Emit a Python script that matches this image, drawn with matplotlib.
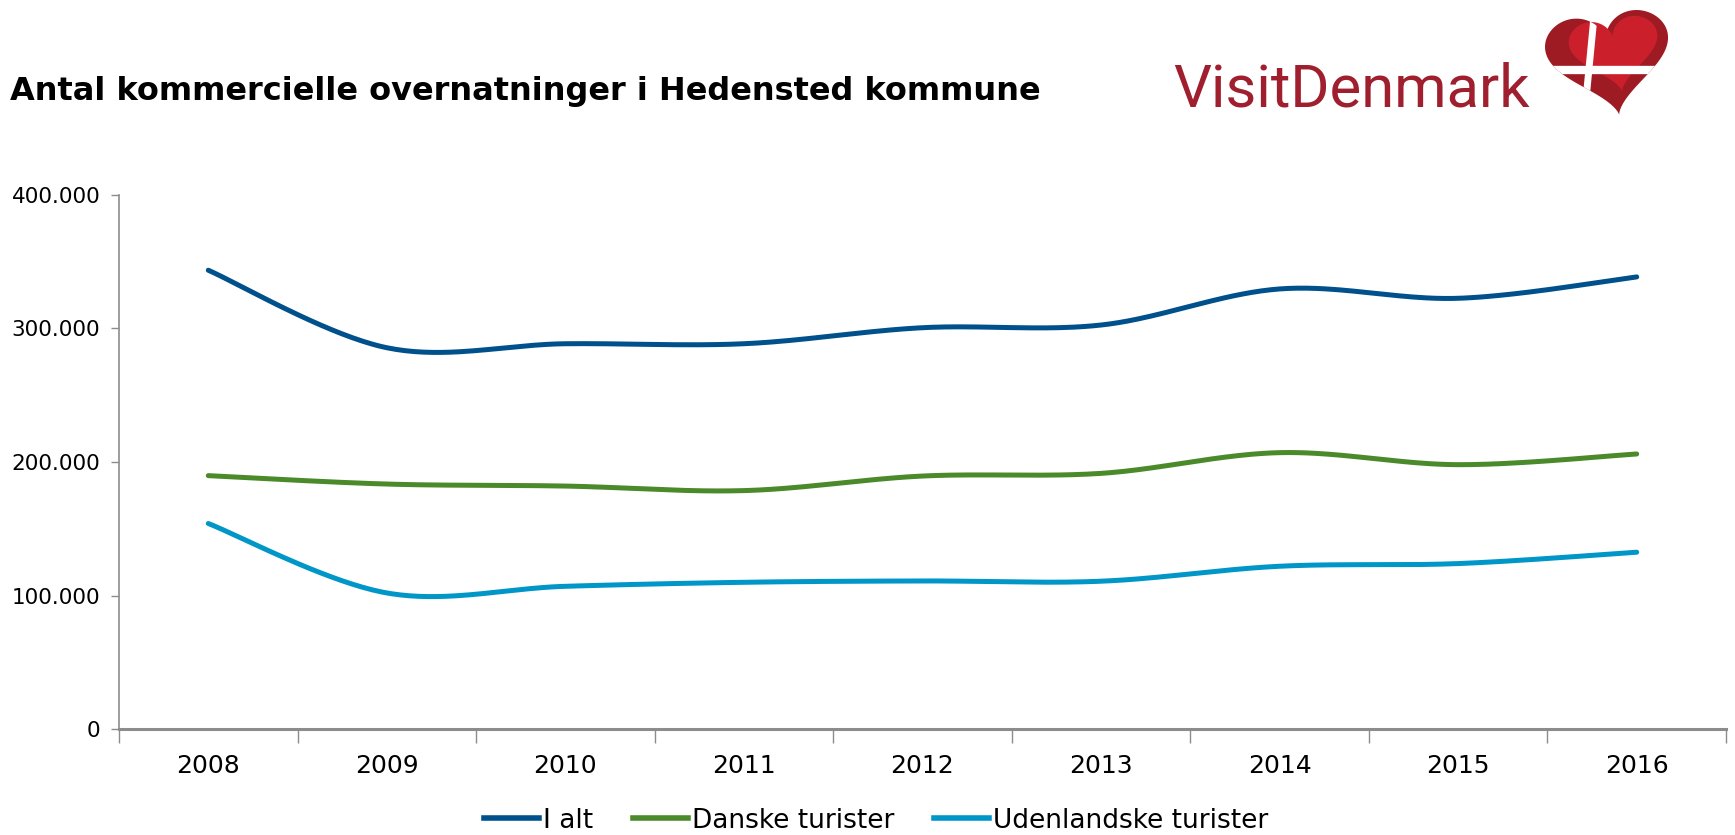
import numpy as np
import matplotlib
matplotlib.use("Agg")
from matplotlib import pyplot as plt
from matplotlib.lines import Line2D
from matplotlib.ticker import FuncFormatter

years = ["2008", "2009", "2010", "2011", "2012", "2013", "2014", "2015", "2016"]
i_alt = [343500, 285500, 288500, 288500, 300500, 302500, 329500, 322500, 338500]
danske = [189800, 183500, 182000, 178600, 189500, 191500, 207000, 198000, 206000]
udenlandske = [154000, 102000, 107000, 110000, 111000, 110800, 122000, 124000, 132500]
series_names = ["I alt", "Danske turister", "Udenlandske turister"]
colors = ["#00508c", "#4a8a2a", "#0096c8"]


def smooth(xs, ys, n=40):
    # excel-like smoothed line (catmull-rom through the points)
    xs = np.asarray(xs, float)
    ys = np.asarray(ys, float)
    px = np.concatenate([[xs[0]], xs, [xs[-1]]])
    py = np.concatenate([[ys[0]], ys, [ys[-1]]])
    ox, oy = [], []
    t = np.linspace(0, 1, n)
    for i in range(1, len(px) - 2):
        p0x, p1x, p2x, p3x = px[i - 1], px[i], px[i + 1], px[i + 2]
        p0y, p1y, p2y, p3y = py[i - 1], py[i], py[i + 1], py[i + 2]
        c1x, c1y = p1x + (p2x - p0x) / 6, p1y + (p2y - p0y) / 6
        c2x, c2y = p2x - (p3x - p1x) / 6, p2y - (p3y - p1y) / 6
        bx = (1 - t) ** 3 * p1x + 3 * (1 - t) ** 2 * t * c1x + 3 * (1 - t) * t ** 2 * c2x + t ** 3 * p2x
        by = (1 - t) ** 3 * p1y + 3 * (1 - t) ** 2 * t * c1y + 3 * (1 - t) * t ** 2 * c2y + t ** 3 * p2y
        ox.extend(bx)
        oy.extend(by)
    return np.array(ox), np.array(oy)


plt.rcParams['font.family'] = ['DejaVu Sans']
fig = plt.figure(figsize=(17.35, 8.35), dpi=100)
ax = fig.add_axes([0.0686, 0.1266, 0.9262, 0.6402])

x = np.arange(len(years))
for vals, c in zip([i_alt, danske, udenlandske], colors):
    sx, sy = smooth(x, vals)
    ax.plot(sx, sy, color=c, lw=3.6, solid_capstyle='round')

ax.set_xlim(-0.5, len(years) - 0.5)
ax.set_ylim(0, 400000)
ax.set_yticks(np.arange(0, 400001, 100000))
ax.yaxis.set_major_formatter(FuncFormatter(lambda v, p: f"{int(v):,}".replace(",", ".")))
ax.set_xticks(x)
ax.set_xticklabels(years)
ax.set_xticks(np.arange(-0.5, len(years), 1), minor=True)

for s in ["top", "right"]:
    ax.spines[s].set_visible(False)
ax.spines["left"].set_color("#8c8c8c")
ax.spines["left"].set_linewidth(1.2)
ax.spines["bottom"].set_color("#8c8c8c")
ax.spines["bottom"].set_linewidth(2.2)

ax.tick_params(axis='y', length=6, width=1, color="#8c8c8c", labelsize=15.5, pad=7.5)
ax.tick_params(axis='x', which='major', length=0, labelsize=18, pad=17.5)
ax.tick_params(axis='x', which='minor', length=10, width=1, color="#8c8c8c")

fig.text(0.006, 0.891, "Antal kommercielle overnatninger i Hedensted kommune",
         fontsize=23, fontweight='bold', va='center', ha='left')

# legend
handles = [Line2D([], [], color=c, lw=4) for c in colors]
fig.legend(handles, series_names, loc='lower center', bbox_to_anchor=(0.505, 0.0),
           borderaxespad=0, borderpad=0.05, ncol=3, frameon=False, fontsize=19,
           handlelength=2.1, handletextpad=0.15, columnspacing=1.5)

# VisitDenmark logo
fig.text(0.676, 0.873, "VisitDenmark", fontsize=43, color="#a01f2e",
         family=['Roboto', 'DejaVu Sans'], va='baseline', ha='left')
lax = fig.add_axes([0.8905, 0.8623, 0.0709, 0.1257])
t = np.linspace(0, 2 * np.pi, 300)
hx = 16 * np.sin(t) ** 3
hy = 13 * np.cos(t) - 5 * np.cos(2 * t) - 2 * np.cos(3 * t) - np.cos(4 * t)
ang = np.deg2rad(9)
rx = hx * np.cos(ang) - hy * np.sin(ang)
ry = hx * np.sin(ang) + hy * np.cos(ang)
heart = lax.fill(rx, ry, color="#9e1b24", lw=0)[0]
inner = lax.fill(rx * 0.72 + 1.5, ry * 0.72 + 2.0, color="#cc1f2c", lw=0)[0]
x0, x1, y0, y1 = rx.min(), rx.max(), ry.min(), ry.max()
cy = y1 - 0.57 * (y1 - y0)
cx = x0 + 0.37 * (x1 - x0)
hl = lax.plot([x0 - 5, x1 + 5], [cy, cy], color="white", lw=6)[0]
vl = lax.plot([cx - 2, cx + 1.5], [y0 - 5, y1 + 5], color="white", lw=5)[0]
hl.set_clip_path(heart)
vl.set_clip_path(heart)
lax.set_xlim(x0, x1)
lax.set_ylim(y0, y1)
lax.axis('off')

fig.savefig("out.png", dpi=100)
